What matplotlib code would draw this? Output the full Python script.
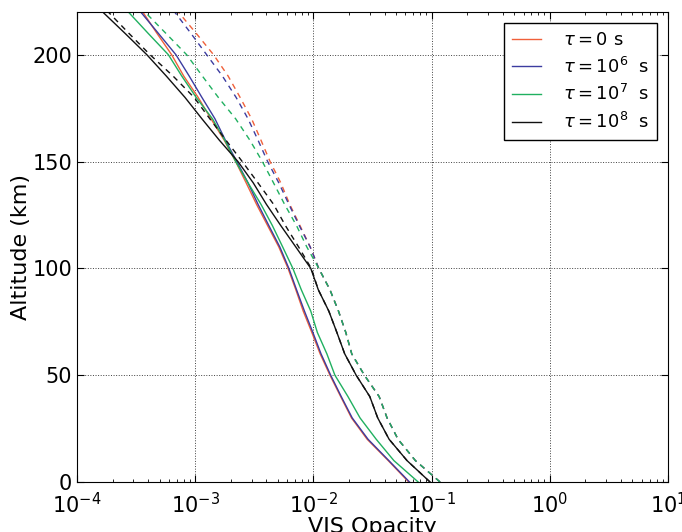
import numpy as np
import matplotlib
matplotlib.use('Agg')
import matplotlib.pyplot as plt
from matplotlib.ticker import LogLocator

plt.rcParams['font.family'] = ['DejaVu Sans']
plt.rcParams['mathtext.fontset'] = 'dejavusans'

# altitude grid (km)
alt = [0, 10, 20, 30, 40, 50, 60, 70, 80, 90, 100, 110, 120,
       130, 140, 150, 160, 170, 180, 190, 200, 210, 220, 230]

# solid curves
tau0 = [0.064, 0.043, 0.0285, 0.021, 0.017, 0.0138, 0.0114, 0.0097, 0.0082, 0.0071,
        0.0061, 0.0051, 0.0041, 0.0033, 0.0027, 0.0022, 0.00176, 0.00136, 0.00106,
        0.0008, 0.000632, 0.000475, 0.00036, 0.00027]
tau6 = [0.065, 0.0435, 0.029, 0.0213, 0.0172, 0.014, 0.0116, 0.0099, 0.0084, 0.0072,
        0.0062, 0.0052, 0.0042, 0.0034, 0.0028, 0.00225, 0.0018, 0.00147, 0.00114,
        0.00089, 0.000687, 0.000488, 0.000346, 0.000245]
tau7 = [0.077, 0.048, 0.034, 0.0248, 0.0196, 0.0152, 0.013, 0.0108, 0.0095, 0.0079,
        0.0067, 0.0055, 0.0045, 0.0036, 0.0028, 0.0022, 0.00178, 0.0014, 0.00102,
        0.00077, 0.000593, 0.0004, 0.000272, 0.00019]
tau8 = [0.097, 0.062, 0.0437, 0.035, 0.03, 0.023, 0.0184, 0.0158, 0.0135, 0.011,
        0.0095, 0.0071, 0.0053, 0.004, 0.0031, 0.0023, 0.0016, 0.00114, 0.00082,
        0.00057, 0.00039, 0.000255, 0.000165, 0.000106]

# dashed curves
tau0_d = [0.118, 0.073, 0.052, 0.042, 0.036, 0.027, 0.0211, 0.0188, 0.0163, 0.0138,
          0.0111, 0.0094, 0.0077, 0.0063, 0.0053, 0.0043, 0.0036, 0.003, 0.0024,
          0.0019, 0.00143, 0.00102, 0.00072, 0.00051]
tau6_d = [0.118, 0.073, 0.052, 0.042, 0.036, 0.027, 0.0211, 0.0188, 0.0163, 0.0138,
          0.0111, 0.0094, 0.0076, 0.0062, 0.0051, 0.0041, 0.0034, 0.0028, 0.00222,
          0.0017, 0.00125, 0.00092, 0.00067, 0.00049]
tau7_d = [0.118, 0.073, 0.052, 0.042, 0.036, 0.027, 0.0211, 0.0188, 0.0163, 0.0138,
          0.0111, 0.0088, 0.0072, 0.0057, 0.0046, 0.0037, 0.0029, 0.0022, 0.00157,
          0.00115, 0.000847, 0.000565, 0.000376, 0.00025]
tau8_d = [0.097, 0.062, 0.0437, 0.035, 0.03, 0.023, 0.0184, 0.0158, 0.0135, 0.011,
          0.0096, 0.0075, 0.0058, 0.0046, 0.0034, 0.0025, 0.00182, 0.00133, 0.00098,
          0.00065, 0.000415, 0.000275, 0.000184, 0.00012]

labels = [r'$\tau = 0$ s', r'$\tau = 10^6$  s', r'$\tau = 10^7$  s', r'$\tau = 10^8$  s']
colors = ['#f0603a', '#3c3ca0', '#20b060', '#111111']

fig = plt.figure(figsize=(6.82, 5.32), dpi=100)
ax = fig.add_axes([77 / 682, 50 / 532, 591 / 682, 470 / 532])

for vals, c, lab in zip([tau0, tau6, tau7, tau8], colors, labels):
    ax.plot(vals, alt, color=c, lw=1.0, label=lab)
for vals, c in zip([tau0_d, tau6_d, tau7_d, tau8_d], colors):
    ax.plot(vals, alt, color=c, lw=1.0, ls=(0, (4, 3.5)))

ax.set_xscale('log')
ax.set_xlim(1e-4, 10)
ax.set_ylim(0, 220)
ax.set_yticks([0, 50, 100, 150, 200])
ax.xaxis.set_minor_locator(LogLocator(base=10, subs=np.arange(2, 10), numticks=20))
ax.grid(True, which='major', color='0.25', ls=':', lw=0.7)
ax.tick_params(which='both', direction='in', top=True, right=True, labelsize=15)
ax.tick_params(which='major', length=5)
ax.tick_params(which='minor', length=2.5)
ax.tick_params(axis='x', pad=7)
ax.set_xlabel('VIS Opacity', fontsize=16, labelpad=0)
ax.set_ylabel('Altitude (km)', fontsize=16, labelpad=1)

leg = ax.legend(loc='upper right', fontsize=13, fancybox=False, framealpha=1,
                edgecolor='k', handlelength=1.6, handletextpad=1.2,
                borderpad=0.45, labelspacing=0.42, borderaxespad=0.6)
leg.get_frame().set_linewidth(1.0)

fig.savefig('out.png', dpi=100)
